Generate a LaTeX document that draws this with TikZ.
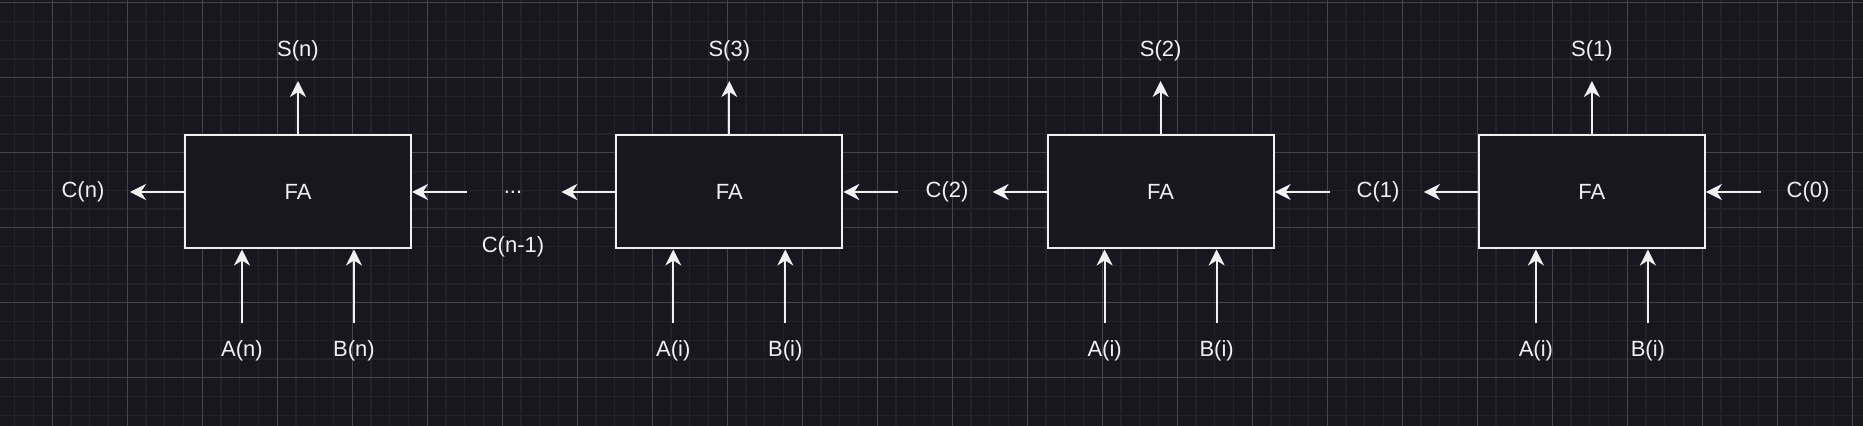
\documentclass[tikz,border=0pt]{standalone}
\usepackage{fontspec}
\setmainfont{Liberation Sans}
\usetikzlibrary{arrows.meta}

\definecolor{bgdark}{HTML}{18161F}
\definecolor{gridminor}{HTML}{23212A}
\definecolor{gridmajor}{HTML}{46444C}
\definecolor{wire}{HTML}{F0F0F0}

\tikzset{
  fabox/.style={draw=wire, fill=bgdark, line width=1pt, minimum width=113pt,
    minimum height=56.5pt, inner sep=0pt, text=wire},
  lbl/.style={text=wire, inner sep=0pt},
  sig/.style={draw=wire, line width=1pt, -{Stealth[length=8pt,width=8pt,inset=2.5pt]}},
}

\begin{document}
\begin{tikzpicture}[x=0.5pt,y=-0.5pt,font=\fontsize{11}{13}\selectfont]
  \fill[bgdark] (0,0) rectangle (1863,426);
  \useasboundingbox (0,0) rectangle (1863,426);
  % grid
  \foreach \x in {14.8,33.55,...,1863} \draw[gridminor,line width=0.6pt] (\x,0) -- (\x,426);
  \foreach \y in {2.7,21.45,...,426} \draw[gridminor,line width=0.6pt] (0,\y) -- (1863,\y);
  \foreach \x in {52.3,127.3,...,1863} \draw[gridmajor,line width=0.5pt] (\x,0) -- (\x,426);
  \foreach \y in {2.7,77.7,...,426} \draw[gridmajor,line width=0.5pt] (0,\y) -- (1863,\y);

  % full adders
  \foreach \k/\s/\ab in {0/n/n, 1/3/i, 2/2/i, 3/1/i} {
    \pgfmathsetmacro\cx{298+431.3*\k}
    \node[fabox] (fa\k) at (\cx,192) {FA};
    % sum
    \node[lbl] (s\k) at (\cx,51) {S(\s)};
    \coordinate (st\k) at (\cx,81);
    \draw[sig] (fa\k.north) -- (st\k);
    % inputs
    \node[lbl] (a\k) at (\cx-56,351) {A(\ab)};
    \coordinate (at\k) at (\cx-56,323);
    \draw[sig] (at\k) -- (at\k |- fa\k.south);
    \node[lbl] (b\k) at (\cx+56,351) {B(\ab)};
    \coordinate (bt\k) at (\cx+56,323);
    \draw[sig] (bt\k) -- (bt\k |- fa\k.south);
    % carries
    \coordinate (cl\k) at (\cx-168,192);
    \draw[sig] (fa\k.west) -- (cl\k);
    \coordinate (cr\k) at (\cx+169,192);
    \draw[sig] (cr\k) -- (fa\k.east);
  }

  % carry labels
  \node[lbl] (cn) at (83,192) {C(n)};
  \node[lbl] (dots) at (513,192) {...};
  \node[lbl] (cn1) at (513,247) {C(n-1)};
  \node[lbl] (c2) at (947,192) {C(2)};
  \node[lbl] (c1) at (1378,192) {C(1)};
  \node[lbl] (c0) at (1808,192) {C(0)};
\end{tikzpicture}
\end{document}
